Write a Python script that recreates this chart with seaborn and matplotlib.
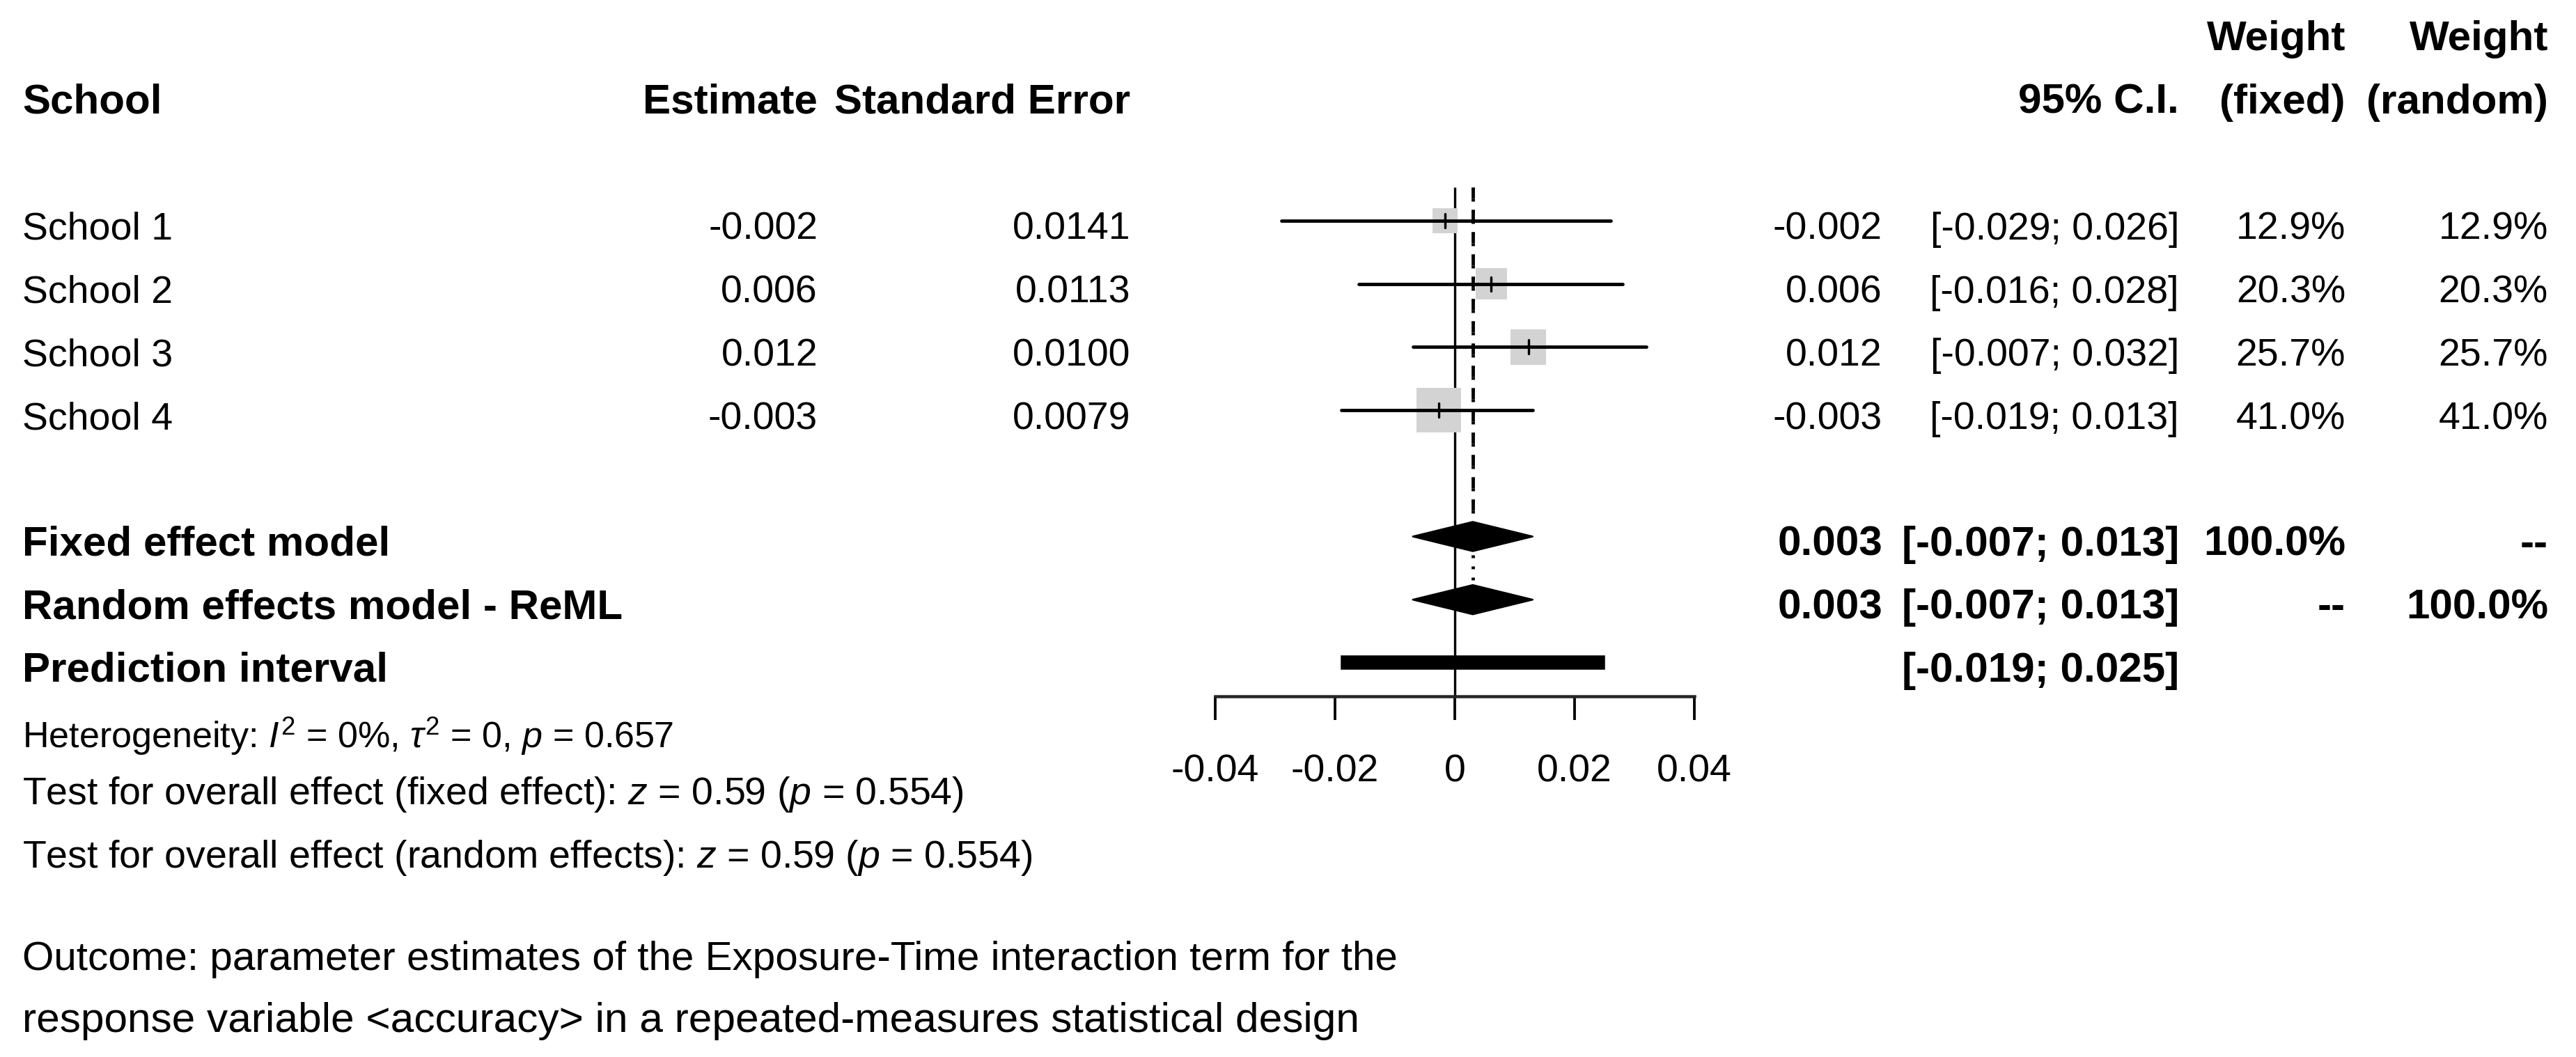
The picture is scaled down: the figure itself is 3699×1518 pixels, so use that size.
import numpy as np
import pandas as pd
import matplotlib
matplotlib.use("Agg")
import matplotlib.pyplot as plt
import seaborn as sns

# ---------------- data ----------------
schools = ["School 1", "School 2", "School 3", "School 4"]
estimates = [-0.0016, 0.0061, 0.0123, -0.0027]
std_errors = ["0.0141", "0.0113", "0.0100", "0.0079"]
ci_low = [-0.029, -0.016, -0.007, -0.019]
ci_high = [0.026, 0.028, 0.032, 0.013]
weight_fixed = [12.9, 20.3, 25.7, 41.0]
weight_random = [12.9, 20.3, 25.7, 41.0]

fixed_est, fixed_lo, fixed_hi = 0.003, -0.007, 0.013
random_est, random_lo, random_hi = 0.003, -0.007, 0.013
pred_lo, pred_hi = -0.019, 0.025

x_ticks = [-0.04, -0.02, 0, 0.02, 0.04]
x_tick_labels = ["-0.04", "-0.02", "0", "0.02", "0.04"]

model_labels = ["Fixed effect model", "Random effects model - ReML", "Prediction interval"]
heterogeneity_text = r"Heterogeneity: $I^2$ = 0%, $\tau^2$ = 0, $p$ = 0.657"
test_fixed_text = r"Test for overall effect (fixed effect): $z$ = 0.59 ($p$ = 0.554)"
test_random_text = r"Test for overall effect (random effects): $z$ = 0.59 ($p$ = 0.554)"
outcome_lines = ["Outcome: parameter estimates of the Exposure-Time interaction term for the",
                 "response variable <accuracy> in a repeated-measures statistical design"]

df = pd.DataFrame({"school": schools, "est": estimates, "lo": ci_low, "hi": ci_high,
                   "wf": weight_fixed, "wr": weight_random})
df["row"] = np.arange(len(df))

# ---------------- style / layout ----------------
sns.set_theme(style="white")
plt.rcParams["font.family"] = ["Liberation Sans", "DejaVu Sans"]
plt.rcParams["mathtext.fontset"] = "custom"
plt.rcParams["mathtext.rm"] = "Liberation Sans"
plt.rcParams["mathtext.it"] = "Liberation Sans:italic"
plt.rcParams["mathtext.bf"] = "Liberation Sans:bold"
plt.rcParams["lines.scale_dashes"] = False

W, H, DPI = 3699, 1518, 100
PX = 72.0 / DPI            # points per pixel
FS = 40.0                  # regular text size (pt)
FSB = 43.3                 # bold text size (pt)
FS_HET = 37.5
FS_OUT = [42.0, 43.5]
ROW0, ROWH, BASE = 317.0, 90.7, 27.0   # pixel y of first row, row height, baseline offset

fig = plt.figure(figsize=(W / DPI, H / DPI), dpi=DPI)
fig.patch.set_facecolor("white")

# text layer in pixel coordinates
axt = fig.add_axes([0, 0, 1, 1])
axt.set_xlim(0, W)
axt.set_ylim(H, 0)
axt.axis("off")

# forest panel in data coordinates
px_left, px_right = 1702, 2476
px_top, px_bot = 250, 1000
ax = fig.add_axes([px_left / W, (H - px_bot) / H, (px_right - px_left) / W, (px_bot - px_top) / H])
ax.patch.set_alpha(0)
ax.set_xlim(-0.045, 0.045)
r_top = (px_top - ROW0) / ROWH
r_bot = (px_bot - ROW0) / ROWH
ax.set_ylim(r_bot, r_top)

ROW_FIXED, ROW_RANDOM, ROW_PRED = 5, 6, 7
line_top = (269 - ROW0) / ROWH
LW = 4.8 * PX

# reference lines
ax.vlines(0, line_top, r_bot, color="black", lw=3.4 * PX, zorder=1)
ax.plot([fixed_est, fixed_est], [line_top, ROW_FIXED - 0.232], color="black",
        lw=LW, linestyle=(0, (16 * PX, 16 * PX)), zorder=1, solid_capstyle="butt")
ax.plot([random_est, random_est], [line_top, ROW_RANDOM - 0.232], color="black",
        lw=LW, linestyle=(0, (4 * PX, 12 * PX)), zorder=1)

# squares sized by weight
SQ = 100.0  # px side for weight 100%
sizes = [(SQ * np.sqrt(w / 100.0) * PX) ** 2 for w in df["wf"]]
sns.scatterplot(data=df, x="est", y="row", ax=ax, marker="s", s=sizes,
                color="#D3D3D3", linewidth=0, zorder=2, legend=False)

# confidence intervals
ci = ax.hlines(df["row"], df["lo"], df["hi"], color="black", lw=LW, zorder=3)
ci.set_capstyle("round")
tk = ax.vlines(df["est"], df["row"] - 0.11, df["row"] + 0.11, color="black", lw=3.4 * PX, zorder=4)
tk.set_capstyle("round")

# diamonds
DH = 0.232
for est, lo, hi, row in [(fixed_est, fixed_lo, fixed_hi, ROW_FIXED),
                         (random_est, random_lo, random_hi, ROW_RANDOM)]:
    ax.fill([lo, est, hi, est], [row, row - DH, row, row + DH], facecolor="black",
            edgecolor="black", lw=2.5 * PX, joinstyle="round", zorder=5)

# prediction interval
ax.barh(ROW_PRED, pred_hi - pred_lo, left=pred_lo, height=0.21, color="black",
        edgecolor="black", lw=1.5 * PX, zorder=5)

# axis
for s in ["top", "left", "right"]:
    ax.spines[s].set_visible(False)
ax.spines["bottom"].set_bounds(x_ticks[0], x_ticks[-1])
ax.spines["bottom"].set_linewidth(4.5 * PX)
ax.spines["bottom"].set_capstyle("projecting")
ax.set_yticks([])
ax.set_xticks(x_ticks)
ax.set_xticklabels(x_tick_labels, fontsize=FS)
ax.tick_params(axis="x", direction="out", length=34 * PX, width=3.8 * PX, pad=35, colors="black",
               bottom=True)
ax.set_xlabel("")
ax.set_ylabel("")


def put(x, r, s, ha="left", bold=False):
    axt.text(x, ROW0 + ROWH * r + BASE, s, ha=ha, va="baseline",
             fontsize=FSB if bold else FS, fontweight="bold" if bold else "normal", color="black")


X_LABEL, X_EST, X_SE = 32, 1174, 1623
X_EST2, X_CI, X_WF, X_WR = 2703, 3129, 3368, 3659

# headers
put(X_WF, -3, "Weight", "right", True)
put(X_WR, -3, "Weight", "right", True)
put(X_LABEL, -2, "School", "left", True)
put(X_EST, -2, "Estimate", "right", True)
put(X_SE, -2, "Standard Error", "right", True)
put(X_CI, -2, "95% C.I.", "right", True)
put(X_WF, -2, "(fixed)", "right", True)
put(X_WR, -2, "(random)", "right", True)

# study rows
for i, row in df.iterrows():
    r = row["row"]
    put(X_LABEL, r, row["school"])
    put(X_EST, r, f"{row['est']:.3f}", "right")
    put(X_SE, r, std_errors[i], "right")
    put(X_EST2, r, f"{row['est']:.3f}", "right")
    put(X_CI, r, f"[{row['lo']:.3f}; {row['hi']:.3f}]", "right")
    put(X_WF, r, f"{row['wf']:.1f}%", "right")
    put(X_WR, r, f"{row['wr']:.1f}%", "right")

# summary rows
put(X_LABEL, ROW_FIXED, model_labels[0], bold=True)
put(X_EST2, ROW_FIXED, f"{fixed_est:.3f}", "right", True)
put(X_CI, ROW_FIXED, f"[{fixed_lo:.3f}; {fixed_hi:.3f}]", "right", True)
put(X_WF, ROW_FIXED, "100.0%", "right", True)
put(X_WR, ROW_FIXED, "--", "right", True)

put(X_LABEL, ROW_RANDOM, model_labels[1], bold=True)
put(X_EST2, ROW_RANDOM, f"{random_est:.3f}", "right", True)
put(X_CI, ROW_RANDOM, f"[{random_lo:.3f}; {random_hi:.3f}]", "right", True)
put(X_WF, ROW_RANDOM, "--", "right", True)
put(X_WR, ROW_RANDOM, "100.0%", "right", True)

put(X_LABEL, ROW_PRED, model_labels[2], bold=True)
put(X_CI, ROW_PRED, f"[{pred_lo:.3f}; {pred_hi:.3f}]", "right", True)

# footer texts
for y, s, fs in [(1074, heterogeneity_text, FS_HET), (1155, test_fixed_text, FS),
                 (1246, test_random_text, FS), (1393, outcome_lines[0], FS_OUT[0]),
                 (1482, outcome_lines[1], FS_OUT[1])]:
    axt.text(X_LABEL, y, s, ha="left", va="baseline", fontsize=fs, color="black")

fig.savefig("out.png", dpi=DPI, facecolor="white")
